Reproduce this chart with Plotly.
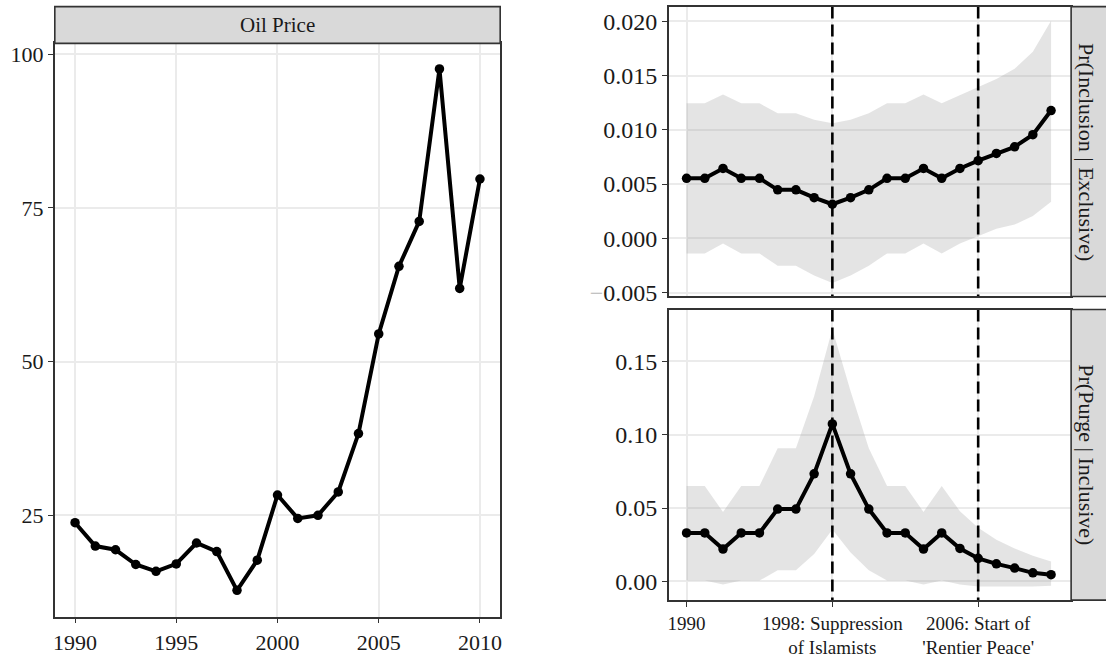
import plotly.graph_objects as go

# ---- data -------------------------------------------------------------
years = list(range(1990, 2011))

oil_price = [23.8, 20.0, 19.4, 17.0, 15.9, 17.1, 20.5, 19.1, 12.8, 17.7,
             28.3, 24.5, 25.0, 28.8, 38.3, 54.5, 65.5, 72.8, 97.6, 61.9, 79.7]

incl_mean = [0.00553, 0.00553, 0.00644, 0.00553, 0.00553, 0.00447, 0.00447,
             0.00375, 0.00314, 0.00375, 0.00447, 0.00553, 0.00553, 0.00644,
             0.00553, 0.00644, 0.00716, 0.00782, 0.00843, 0.00955, 0.01178]
incl_hi = [0.01245, 0.01245, 0.01326, 0.01245, 0.01245, 0.01154, 0.01154,
           0.01094, 0.01060, 0.01094, 0.01154, 0.01245, 0.01245, 0.01326,
           0.01245, 0.01317, 0.01390, 0.01468, 0.01562, 0.01719, 0.02006]
incl_lo = [-0.00139, -0.00139, -0.00048, -0.00139, -0.00139, -0.00254, -0.00254,
           -0.00344, -0.00411, -0.00344, -0.00254, -0.00139, -0.00139, -0.00048,
           -0.00139, -0.00048, 0.00018, 0.00088, 0.00127, 0.00205, 0.00338]

purge_mean = [0.0330, 0.0330, 0.0220, 0.0330, 0.0330, 0.0493, 0.0493,
              0.0733, 0.1074, 0.0733, 0.0493, 0.0330, 0.0330, 0.0220,
              0.0330, 0.0224, 0.0157, 0.0119, 0.0090, 0.0058, 0.0045]
purge_hi = [0.0650, 0.0650, 0.0473, 0.0650, 0.0650, 0.0908, 0.0908,
            0.1262, 0.1722, 0.1296, 0.0908, 0.0650, 0.0650, 0.0473,
            0.0650, 0.0478, 0.0365, 0.0283, 0.0224, 0.0175, 0.0135]
purge_lo = [0.0005, 0.0005, -0.0022, 0.0005, 0.0005, 0.0076, 0.0076,
            0.0186, 0.0354, 0.0197, 0.0076, 0.0005, 0.0005, -0.0022,
            0.0005, -0.0022, -0.0036, -0.0036, -0.0036, -0.0036, -0.0031]

event_years = [1998, 2006]
event_labels = ["1998: Suppression<br>of Islamists", "2006: Start of<br>'Rentier Peace'"]

oil_xticks = [1990, 1995, 2000, 2005, 2010]
oil_yticks = [25, 50, 75, 100]
incl_yticks = [-0.005, 0.000, 0.005, 0.010, 0.015, 0.020]
purge_yticks = [0.00, 0.05, 0.10, 0.15]

strip_left = "Oil Price"
strip_top = "Pr(Inclusion | Exclusive)"
strip_bottom = "Pr(Purge | Inclusive)"

# ---- style ------------------------------------------------------------
FONT = "Liberation Serif"
INK = "#1a1a1a"
FRAME = "#333333"
GRID = "#ebebeb"
STRIP_FILL = "#d9d9d9"
RIBBON = "rgba(150,150,150,0.26)"
LINE_W = 4.0
MARKER_SIZE = 9.5

W, H = 1106, 660
def px_x(p):
    return p / W
def px_y(p):
    return 1 - p / H

left_dom_x = [px_x(53), px_x(500)]
left_dom_y = [px_y(625), px_y(43)]
left_strip_y = [px_y(43), px_y(5.7)]

right_dom_x = [px_x(669.3), px_x(1073)]
top_dom_y = [px_y(300), px_y(5.7)]
bot_dom_y = [px_y(608.3), px_y(313.3)]

oil_xrange = [1989.0, 2011.0]
oil_yrange = [8.54, 101.76]
right_xrange = [1989.03, 2011.1]
incl_yrange = [-0.00536, 0.02136]
purge_yrange = [-0.0128, 0.1854]

fig = go.Figure()

# left panel: oil price
fig.add_trace(go.Scatter(
    x=years, y=oil_price, mode="lines+markers",
    line=dict(color="black", width=LINE_W), marker=dict(color="black", size=MARKER_SIZE),
    xaxis="x", yaxis="y", showlegend=False, hoverinfo="skip"))

def add_panel(mean, lo, hi, xa, ya, yrange):
    # confidence band, event markers, then the estimate on top
    fig.add_trace(go.Scatter(
        x=years + years[::-1], y=hi + lo[::-1], fill="toself",
        fillcolor=RIBBON, line=dict(width=0), mode="lines",
        xaxis=xa, yaxis=ya, showlegend=False, hoverinfo="skip"))
    for ev in event_years:
        fig.add_trace(go.Scatter(
            x=[ev, ev], y=yrange[::-1], mode="lines",
            line=dict(color="black", width=2.6, dash="12px,6px"),
            xaxis=xa, yaxis=ya, showlegend=False, hoverinfo="skip"))
    fig.add_trace(go.Scatter(
        x=years, y=mean, mode="lines+markers",
        line=dict(color="black", width=LINE_W), marker=dict(color="black", size=MARKER_SIZE),
        xaxis=xa, yaxis=ya, showlegend=False, hoverinfo="skip"))

add_panel(incl_mean, incl_lo, incl_hi, "x2", "y2", incl_yrange)
add_panel(purge_mean, purge_lo, purge_hi, "x3", "y3", purge_yrange)

axis_common = dict(showline=True, mirror=True, linecolor=FRAME, linewidth=1.6,
                   showgrid=True, gridcolor=GRID, gridwidth=1.6, zeroline=False,
                   ticks="outside", ticklen=5, tickwidth=1.4, tickcolor=FRAME,
                   tickmode="array")

def fmt_tick(v, nd):
    s = f"{abs(v):.{nd}f}"
    if v < 0:
        return '<span style="color:#b5b5b5">\u2212</span>' + s
    return s

fig.update_layout(
    width=W, height=H, margin=dict(l=0, r=0, t=0, b=0),
    paper_bgcolor="white", plot_bgcolor="white",
    font=dict(family=FONT, color=INK),
    xaxis=dict(axis_common, domain=left_dom_x, range=oil_xrange, anchor="y",
               tickvals=oil_xticks, ticktext=[str(v) for v in oil_xticks],
               tickfont=dict(family=FONT, size=22, color=INK)),
    yaxis=dict(axis_common, domain=left_dom_y, range=oil_yrange, anchor="x",
               tickvals=oil_yticks, ticktext=[str(v) for v in oil_yticks],
               tickfont=dict(family=FONT, size=22, color=INK)),
    xaxis2=dict(axis_common, domain=right_dom_x, range=right_xrange, anchor="y2",
                tickvals=[1990] + event_years, showticklabels=False, ticks=""),
    yaxis2=dict(axis_common, domain=top_dom_y, range=incl_yrange, anchor="x2",
                tickvals=incl_yticks, ticktext=[fmt_tick(v, 3) for v in incl_yticks],
                tickfont=dict(family=FONT, size=24, color=INK)),
    xaxis3=dict(axis_common, domain=right_dom_x, range=right_xrange, anchor="y3",
                tickvals=[1990] + event_years, ticktext=["1990"] + event_labels,
                tickfont=dict(family=FONT, size=19, color=INK)),
    yaxis3=dict(axis_common, domain=bot_dom_y, range=purge_yrange, anchor="x3",
                tickvals=purge_yticks, ticktext=[fmt_tick(v, 2) for v in purge_yticks],
                tickfont=dict(family=FONT, size=24, color=INK)),
)

# facet strips
strip_line = dict(color=FRAME, width=1.6)
shapes = [
    dict(type="rect", xref="paper", yref="paper",
         x0=left_dom_x[0], x1=left_dom_x[1], y0=left_strip_y[0], y1=left_strip_y[1],
         fillcolor=STRIP_FILL, line=strip_line, layer="above"),
    dict(type="rect", xref="paper", yref="paper",
         x0=right_dom_x[1], x1=1.05, y0=top_dom_y[0], y1=top_dom_y[1],
         fillcolor=STRIP_FILL, line=strip_line, layer="above"),
    dict(type="rect", xref="paper", yref="paper",
         x0=right_dom_x[1], x1=1.05, y0=bot_dom_y[0], y1=bot_dom_y[1],
         fillcolor=STRIP_FILL, line=strip_line, layer="above"),
]
fig.update_layout(shapes=shapes)

strip_x_right = px_x(1088.5)
fig.add_annotation(text=strip_left, xref="paper", yref="paper",
                   x=sum(left_dom_x) / 2, y=sum(left_strip_y) / 2,
                   showarrow=False, font=dict(family=FONT, size=21, color=INK),
                   xanchor="center", yanchor="middle")
fig.add_annotation(text=strip_top, xref="paper", yref="paper",
                   x=strip_x_right, y=sum(top_dom_y) / 2, textangle=90,
                   showarrow=False, font=dict(family=FONT, size=22, color=INK),
                   xanchor="center", yanchor="middle")
fig.add_annotation(text=strip_bottom, xref="paper", yref="paper",
                   x=strip_x_right, y=sum(bot_dom_y) / 2, textangle=90,
                   showarrow=False, font=dict(family=FONT, size=22, color=INK),
                   xanchor="center", yanchor="middle")

fig.write_html("out.html")
